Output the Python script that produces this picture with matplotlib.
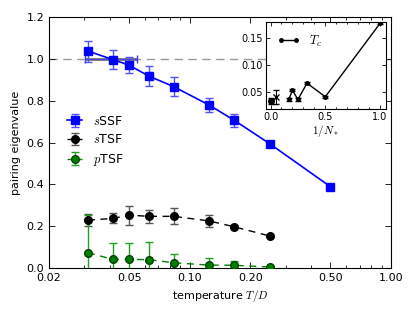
import matplotlib
matplotlib.use("Agg")
import matplotlib.pyplot as plt
from matplotlib.ticker import FixedLocator, FixedFormatter, LogLocator, NullFormatter, MultipleLocator

plt.rcParams['mathtext.fontset'] = 'cm'
plt.rcParams['font.family'] = ['DejaVu Sans']
plt.rcParams['xtick.direction'] = 'in'
plt.rcParams['ytick.direction'] = 'in'
plt.rcParams['xtick.top'] = True
plt.rcParams['ytick.right'] = True

# ---- data ----
T = [1/32, 1/24, 1/20, 1/16, 1/12, 1/8, 1/6, 1/4, 1/2]
sSSF = [1.037, 0.996, 0.970, 0.918, 0.867, 0.779, 0.706, 0.594, 0.389]
sSSF_err = [0.05, 0.045, 0.04, 0.05, 0.045, 0.035, 0.03, 0.0, 0.0]

T_t = [1/32, 1/24, 1/20, 1/16, 1/12, 1/8, 1/6, 1/4]
sTSF = [0.229, 0.237, 0.253, 0.247, 0.247, 0.225, 0.197, 0.153]
sTSF_err = [0.027, 0.024, 0.045, 0.030, 0.038, 0.027, 0.008, 0.0]
pTSF = [0.073, 0.041, 0.041, 0.040, 0.025, 0.014, 0.013, 0.005]
pTSF_err = [0.18, 0.077, 0.077, 0.083, 0.042, 0.032, 0.019, 0.0]

Tc_center = [1/24]
Tc_level = [1.0]
Tc_lo = [0.0302]
Tc_hi = [0.0545]

invN = [1/6, 1/5, 1/4, 1/3, 1/2, 1.0]
Tc_N = [0.037, 0.054, 0.037, 0.067, 0.042, 0.177]
Tc_N_err = [0.002, 0.002, 0.002, 0.002, 0.002, 0.002]
invN_extra = [0.05]
Tc_extra = [0.041]
Tc_extra_err = [0.013]
invN_zero = [0.0]
Tc_zero = [0.034]
Tc_zero_err = [0.005]

xticks = [0.02, 0.05, 0.10, 0.20, 0.50, 1.00]
xticklabels = ["0.02", "0.05", "0.10", "0.20", "0.50", "1.00"]
yticks = [0.0, 0.2, 0.4, 0.6, 0.8, 1.0, 1.2]

fig = plt.figure(figsize=(4.15, 3.12), dpi=100)
ax = fig.add_axes([0.118, 0.141, 0.824, 0.8045])

ax.axhline(1.0, color='#999999', ls='--', lw=1, dashes=(6, 4), zorder=1)

ax.errorbar(Tc_center, Tc_level,
            xerr=[[Tc_center[0] - Tc_lo[0]], [Tc_hi[0] - Tc_center[0]]],
            fmt='none', ecolor='gray', elinewidth=2.2, capsize=0, zorder=2)
ax.errorbar(Tc_center, Tc_level,
            xerr=[[Tc_center[0] - Tc_lo[0]], [Tc_hi[0] - Tc_center[0]]],
            fmt='none', ecolor='#3a3aff', elinewidth=0.6, capsize=3, capthick=1, zorder=2)

ax.errorbar(T, sSSF, yerr=sSSF_err, fmt='s-', color='#0000ff', ms=5.5, lw=1.2,
            ecolor='#5050ff', elinewidth=1, capsize=3, capthick=1, label='$s$SSF', zorder=4)
ax.errorbar(T_t, sTSF, yerr=sTSF_err, fmt='o--', color='k', ms=5.5, lw=1,
            dashes=(5, 4), ecolor='#555555', elinewidth=1, capsize=3, capthick=1,
            label='$s$TSF', zorder=4)
ax.errorbar(T_t, pTSF, yerr=pTSF_err, fmt='o--', color='#007f00', ms=5.5, lw=1,
            dashes=(5, 4), ecolor='#20a020', elinewidth=1, capsize=3, capthick=1,
            mec='#004000', label='$p$TSF', zorder=4)

ax.set_xscale('log')
ax.set_xlim(0.02, 1.0)
ax.set_ylim(0.0, 1.2)
ax.xaxis.set_major_locator(FixedLocator(xticks))
ax.xaxis.set_major_formatter(FixedFormatter(xticklabels))
ax.xaxis.set_minor_locator(LogLocator(base=10, subs=range(2, 10)))
ax.xaxis.set_minor_formatter(NullFormatter())
ax.set_yticks(yticks)
ax.set_yticklabels(["0.0", "0.2", "0.4", "0.6", "0.8", "1.0", "1.2"])
ax.tick_params(labelsize=8, length=4, width=0.6)
ax.tick_params(which='minor', length=2, width=0.6)
ax.set_xlabel('temperature $T/D$', fontsize=8)
ax.set_ylabel('pairing eigenvalue', fontsize=8)

leg = ax.legend(loc='center left', bbox_to_anchor=(0.02, 0.505), frameon=False,
                numpoints=1, fontsize=9, handlelength=1.2, labelspacing=0.45,
                handletextpad=0.9)

# inset
ins = fig.add_axes([0.640, 0.6506, 0.289, 0.278])
ins.errorbar(invN, Tc_N, yerr=Tc_N_err, fmt='none', ecolor='k',
             capsize=2, elinewidth=0.8)
ins.plot(invN, Tc_N, 'o-', color='k', ms=2.5, lw=1, label='$T_c$')
ins.errorbar(invN_extra, Tc_extra, yerr=Tc_extra_err, fmt='x', color='k', ms=4,
             capsize=2.5, elinewidth=0.8)
ins.errorbar(invN_zero, Tc_zero, yerr=Tc_zero_err, fmt='o', color='k', ms=4,
             capsize=2, elinewidth=0.8)
ins.set_xlim(-0.045, 1.05)
ins.set_ylim(0.0195, 0.179)
ins.set_xticks([0.0, 0.5, 1.0])
ins.set_xticklabels(["0.0", "0.5", "1.0"])
ins.set_yticks([0.05, 0.10, 0.15])
ins.set_yticklabels(["0.05", "0.10", "0.15"])
ins.xaxis.set_minor_locator(MultipleLocator(0.1))
ins.tick_params(labelsize=7, length=3, width=0.6, pad=2)
ins.tick_params(which='minor', length=1.5, width=0.6)
ins.set_xlabel('$1/N_*$', fontsize=8, labelpad=1)
ins.legend(loc='upper left', frameon=False, numpoints=2, fontsize=9,
           handlelength=1.8, borderaxespad=0.5)

fig.savefig('out.png', dpi=100)
